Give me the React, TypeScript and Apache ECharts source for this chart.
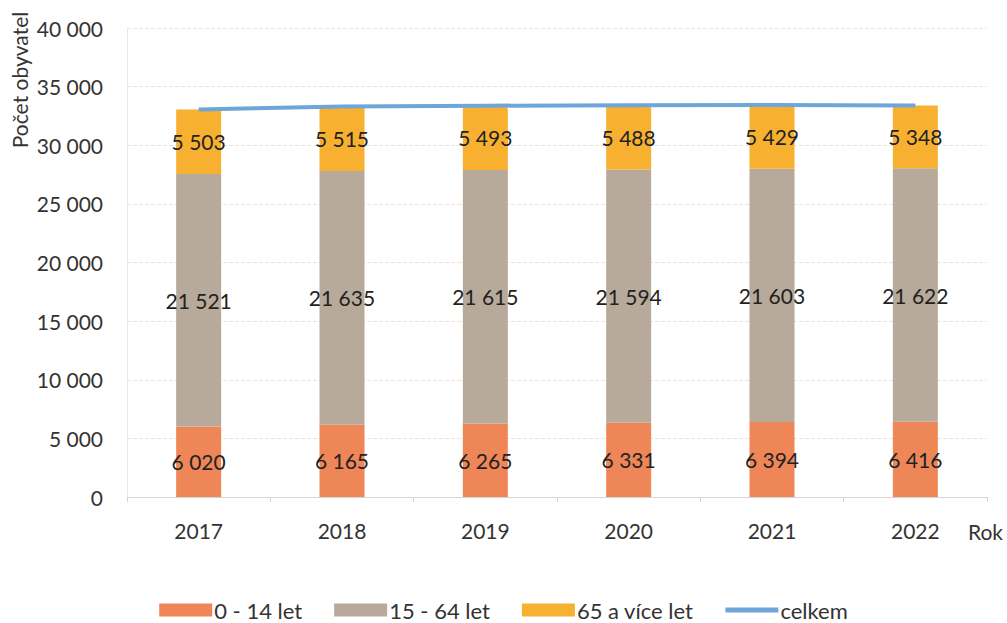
import React, { useEffect, useRef } from "react";
import * as echarts from "echarts";

const years = ["2017", "2018", "2019", "2020", "2021", "2022"];
const age0to14 = [6020, 6165, 6265, 6331, 6394, 6416];
const age15to64 = [21521, 21635, 21615, 21594, 21603, 21622];
const age65plus = [5503, 5515, 5493, 5488, 5429, 5348];
const total = years.map((_, i) => age0to14[i] + age15to64[i] + age65plus[i]);
const yTicks = [0, 5000, 10000, 15000, 20000, 25000, 30000, 35000, 40000];

const fmt = (v: number) => String(v).replace(/\B(?=(\d{3})+(?!\d))/g, " ");
const FONT = "Lato, 'Open Sans', sans-serif";
const FS = 21;

export default function App() {
  const ref = useRef<HTMLDivElement>(null);
  useEffect(() => {
    const chart = echarts.init(ref.current!, null, { renderer: "svg" });
    const label = {
      show: true,
      position: "inside" as const,
      color: "#222",
      fontSize: FS,
      fontFamily: FONT,
      formatter: (p: any) => fmt(p.value),
    };
    chart.setOption({
      animation: false,
      backgroundColor: "#fff",
      textStyle: { fontFamily: FONT },
      grid: { left: 127, right: 20, top: 28, bottom: 126 },
      legend: {
        top: 594,
        left: "center",
        itemWidth: 53,
        itemHeight: 13,
        itemGap: 32,
        symbolKeepAspect: true,
        textStyle: { fontSize: 22, color: "#333", fontFamily: FONT, padding: [0, 0, 0, -3] },
        data: [
          { name: "0 - 14 let", icon: "rect" },
          { name: "15 - 64 let", icon: "rect" },
          { name: "65 a více let", icon: "rect" },
          { name: "celkem", icon: "path://M0,0h53v5h-53z" },
        ],
      },
      xAxis: {
        type: "category",
        data: years,
        axisLine: { lineStyle: { color: "#d9d4d0" } },
        axisTick: { show: true, lineStyle: { color: "#d9d4d0" }, length: 5 },
        axisLabel: { fontSize: FS, color: "#333", margin: 23, fontFamily: FONT },
      },
      yAxis: {
        type: "value",
        min: 0,
        max: 40000,
        interval: 5000,
        axisLine: { show: true, lineStyle: { color: "#ece6e2" } },
        axisTick: { show: false },
        axisLabel: {
          fontSize: FS,
          color: "#333",
          margin: 24,
          fontFamily: FONT,
          formatter: (v: number) => (yTicks.includes(v) ? fmt(v) : ""),
        },
        splitLine: { lineStyle: { color: "#eee2dd", type: "dashed" } },
      },
      graphic: [
        {
          type: "text",
          x: 19,
          y: 80,
          rotation: Math.PI / 2,
          style: {
            text: "Počet obyvatel",
            fontSize: 21,
            fill: "#333",
            fontFamily: FONT,
            align: "center",
            verticalAlign: "middle",
          },
        },
        {
          type: "text",
          right: 4,
          top: 521,
          style: { text: "Rok", fontSize: FS, fill: "#333", fontFamily: FONT },
        },
      ],
      series: [
        {
          name: "0 - 14 let",
          type: "bar",
          stack: "a",
          barWidth: 45,
          data: age0to14,
          itemStyle: { color: "#ee8658" },
          label,
        },
        {
          name: "15 - 64 let",
          type: "bar",
          stack: "a",
          barWidth: 45,
          data: age15to64,
          itemStyle: { color: "#b7aa9b" },
          label,
        },
        {
          name: "65 a více let",
          type: "bar",
          stack: "a",
          barWidth: 45,
          data: age65plus,
          itemStyle: { color: "#f8b030" },
          label,
        },
        {
          name: "celkem",
          type: "line",
          data: total,
          symbol: "none",
          lineStyle: { color: "#6fa6da", width: 4 },
          itemStyle: { color: "#6fa6da" },
          z: 5,
        },
      ],
    });
    return () => chart.dispose();
  }, []);
  return (
    <div
      ref={ref}
      style={{ position: "absolute", left: 0, top: 0, width: 1007, height: 623 }}
    />
  );
}
